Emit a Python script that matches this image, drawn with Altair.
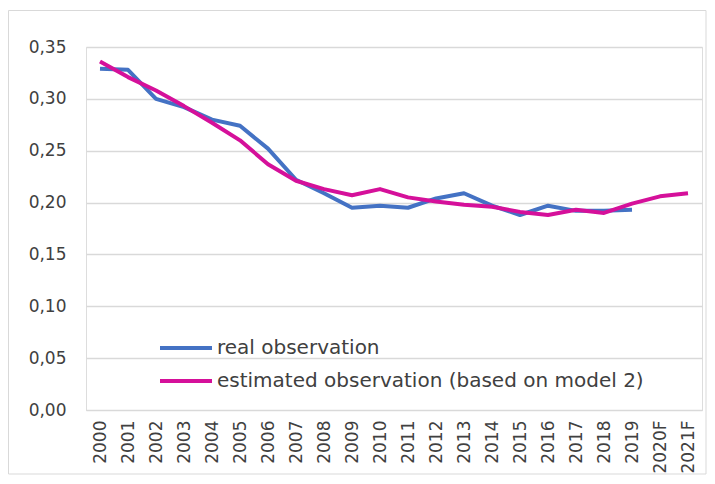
import altair as alt
import pandas as pd

years = ["2000", "2001", "2002", "2003", "2004", "2005", "2006", "2007", "2008", "2009", "2010",
         "2011", "2012", "2013", "2014", "2015", "2016", "2017", "2018", "2019", "2020F", "2021F"]
real_obs = [0.329, 0.328, 0.300, 0.292, 0.280, 0.274, 0.252, 0.222, 0.209, 0.195, 0.197,
            0.195, 0.204, 0.209, 0.197, 0.188, 0.197, 0.192, 0.192, 0.193, None, None]
estimated_obs = [0.336, 0.321, 0.308, 0.293, 0.277, 0.260, 0.237, 0.221, 0.213, 0.207, 0.213,
                 0.205, 0.201, 0.198, 0.196, 0.191, 0.188, 0.193, 0.190, 0.199, 0.206, 0.209]
series_names = ["real observation", "estimated observation (based on model 2)"]
colors = ["#4472C4", "#D5109A"]
y_ticks = [0.0, 0.05, 0.10, 0.15, 0.20, 0.25, 0.30, 0.35]

rows = []
for i, y in enumerate(years):
    if real_obs[i] is not None:
        rows.append({"year": y, "value": real_obs[i], "series": series_names[0]})
    if estimated_obs[i] is not None:
        rows.append({"year": y, "value": estimated_obs[i], "series": series_names[1]})
df = pd.DataFrame(rows)

FONT = "DejaVu Sans"
TXT = "#404040"
W, H = 616, 363

lines = alt.Chart(df).mark_line(strokeWidth=4, strokeJoin="round").encode(
    x=alt.X("year:N", sort=years, title=None,
            scale=alt.Scale(padding=0.5),
            axis=alt.Axis(labelAngle=270, ticks=False, domainColor="#d9d9d9",
                          labelFont=FONT, labelFontSize=17, labelColor=TXT,
                          labelPadding=10, grid=False)),
    y=alt.Y("value:Q", title=None,
            scale=alt.Scale(domain=[0, 0.35], nice=False),
            axis=alt.Axis(values=y_ticks, ticks=False, domain=False,
                          labelExpr="replace(format(datum.value, '.2f'), '.', ',')",
                          labelFont=FONT, labelFontSize=17, labelColor=TXT,
                          labelPadding=20, gridColor="#d9d9d9", gridWidth=1.3)),
    color=alt.Color("series:N", scale=alt.Scale(domain=series_names, range=colors), legend=None),
    detail="series:N",
)

frame = alt.Chart(pd.DataFrame({"a": [0]})).mark_rect(
    fill=None, stroke="#d9d9d9", strokeWidth=1
).encode(x=alt.value(-77.5), x2=alt.value(W + 4), y=alt.value(-36.5), y2=alt.value(H + 64))

layers = [frame, lines]
leg_y = [301, 334]
for i, name in enumerate(series_names):
    ldf = pd.DataFrame({"series": [name]})
    layers.append(alt.Chart(ldf).mark_rule(strokeWidth=4, color=colors[i]).encode(
        x=alt.value(74), x2=alt.value(126), y=alt.value(leg_y[i])))
    layers.append(alt.Chart(ldf).mark_text(
        align="left", baseline="middle", font=FONT, fontSize=20, color=TXT
    ).encode(x=alt.value(131), y=alt.value(leg_y[i]), text="series:N"))

chart = alt.layer(*layers).properties(
    width=W, height=H,
    autosize=alt.AutoSizeParams(type="none"),
    padding={"left": 78, "top": 39, "right": 5, "bottom": 66},
).configure_view(stroke=None).configure(background="white")

chart.save("out.html", embed_options={"renderer": "svg", "actions": False})
